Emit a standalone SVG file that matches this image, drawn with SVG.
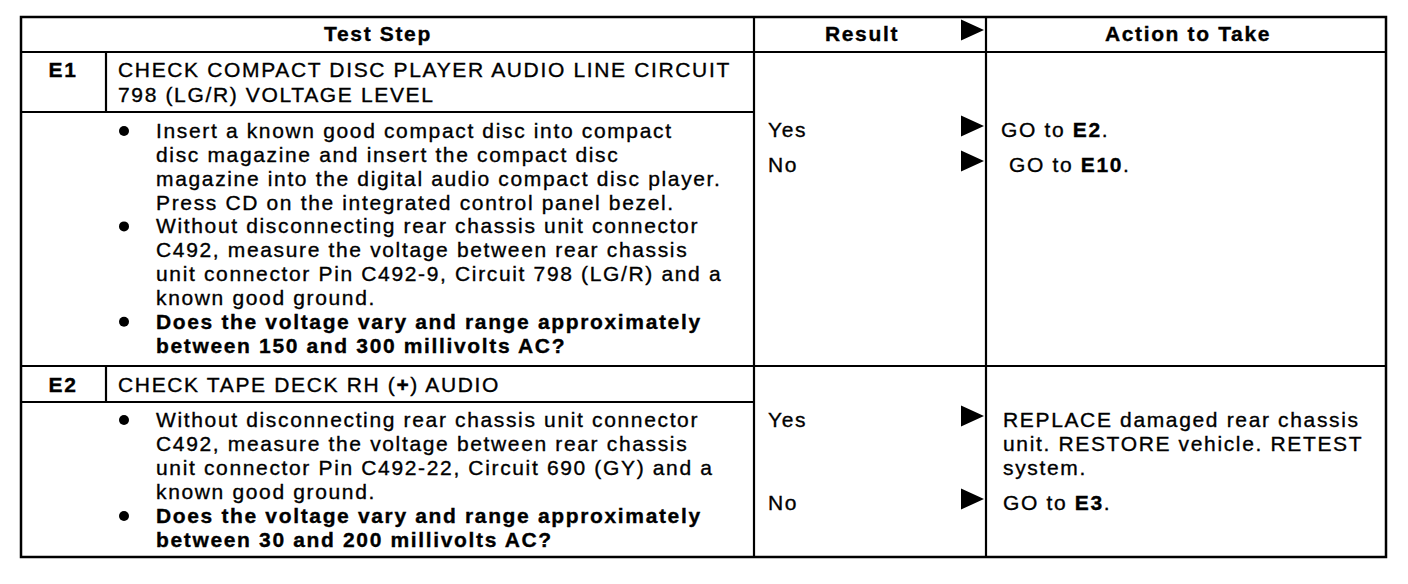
<svg xmlns="http://www.w3.org/2000/svg" width="1408" height="584" viewBox="0 0 1408 584">
<style>
text { font-family: "Liberation Sans", Arial, sans-serif; font-size: 21px; letter-spacing: 1.65px; fill: #000; stroke: #000; stroke-width: 0.35px; }
.b { font-weight: bold; }
.h { font-weight: bold; text-anchor: middle; }
.ln { stroke: #000; stroke-width: 2.5; fill: none; }
.in { stroke: #000; stroke-width: 2.2; }
</style>
<defs>
<path id="arr" d="M0,-10.5 L23,0 L0,10.5 Z" fill="#000"/>
<circle id="dot" r="5" fill="#000"/>
</defs>
<rect x="0" y="0" width="1408" height="584" fill="#fff"/>
<g id="grid">
<rect x="21" y="17" width="1365" height="540" class="ln"/>
<line x1="21" y1="52" x2="1386" y2="52" class="in"/>
<line x1="754" y1="17" x2="754" y2="557" class="in"/>
<line x1="986" y1="17" x2="986" y2="557" class="in"/>
<line x1="21" y1="112" x2="754" y2="112" class="in"/>
<line x1="106" y1="52" x2="106" y2="112" class="in"/>
<line x1="21" y1="366" x2="1386" y2="366" class="in"/>
<line x1="106" y1="366" x2="106" y2="402" class="in"/>
<line x1="21" y1="402" x2="754" y2="402" class="in"/>
</g>
<g id="header">
<text x="378" y="41" class="h">Test Step</text>
<text x="862" y="41" class="h">Result</text>
<use href="#arr" x="961" y="30"/>
<text x="1188" y="41" class="h">Action to Take</text>
</g>
<g id="step-E1">
<text x="63" y="77" class="h">E1</text>
<text x="118" y="77">CHECK COMPACT DISC PLAYER AUDIO LINE CIRCUIT</text>
<text x="118" y="102">798 (LG/R) VOLTAGE LEVEL</text>
<use href="#dot" x="124" y="131"/>
<use href="#dot" x="124" y="226.4"/>
<use href="#dot" x="124" y="321.8"/>
<text x="156" y="138">Insert a known good compact disc into compact</text>
<text x="156" y="161.85">disc magazine and insert the compact disc</text>
<text x="156" y="185.7">magazine into the digital audio compact disc player.</text>
<text x="156" y="209.55">Press CD on the integrated control panel bezel.</text>
<text x="156" y="233.4">Without disconnecting rear chassis unit connector</text>
<text x="156" y="257.25">C492, measure the voltage between rear chassis</text>
<text x="156" y="281.1">unit connector Pin C492-9, Circuit 798 (LG/R) and a</text>
<text x="156" y="304.95">known good ground.</text>
<text x="156" y="328.8" class="b">Does the voltage vary and range approximately</text>
<text x="156" y="352.65" class="b">between 150 and 300 millivolts AC?</text>
<text x="768" y="137">Yes</text>
<text x="768" y="172">No</text>
<use href="#arr" x="961" y="126"/>
<use href="#arr" x="961" y="161"/>
<text x="1001" y="137">GO to <tspan class="b">E2</tspan>.</text>
<text x="1009" y="172">GO to <tspan class="b">E10</tspan>.</text>
</g>
<g id="step-E2">
<text x="63" y="392" class="h">E2</text>
<text x="118" y="392">CHECK TAPE DECK RH (<tspan class="b">+</tspan>) AUDIO</text>
<use href="#dot" x="124" y="420"/>
<use href="#dot" x="124" y="516"/>
<text x="156" y="427">Without disconnecting rear chassis unit connector</text>
<text x="156" y="451">C492, measure the voltage between rear chassis</text>
<text x="156" y="475">unit connector Pin C492-22, Circuit 690 (GY) and a</text>
<text x="156" y="499">known good ground.</text>
<text x="156" y="523" class="b">Does the voltage vary and range approximately</text>
<text x="156" y="547" class="b">between 30 and 200 millivolts AC?</text>
<text x="768" y="427">Yes</text>
<text x="768" y="510">No</text>
<use href="#arr" x="961" y="416"/>
<use href="#arr" x="961" y="499"/>
<text x="1003" y="427">REPLACE damaged rear chassis</text>
<text x="1003" y="451">unit. RESTORE vehicle. RETEST</text>
<text x="1003" y="475">system.</text>
<text x="1003" y="510">GO to <tspan class="b">E3</tspan>.</text>
</g>
</svg>
